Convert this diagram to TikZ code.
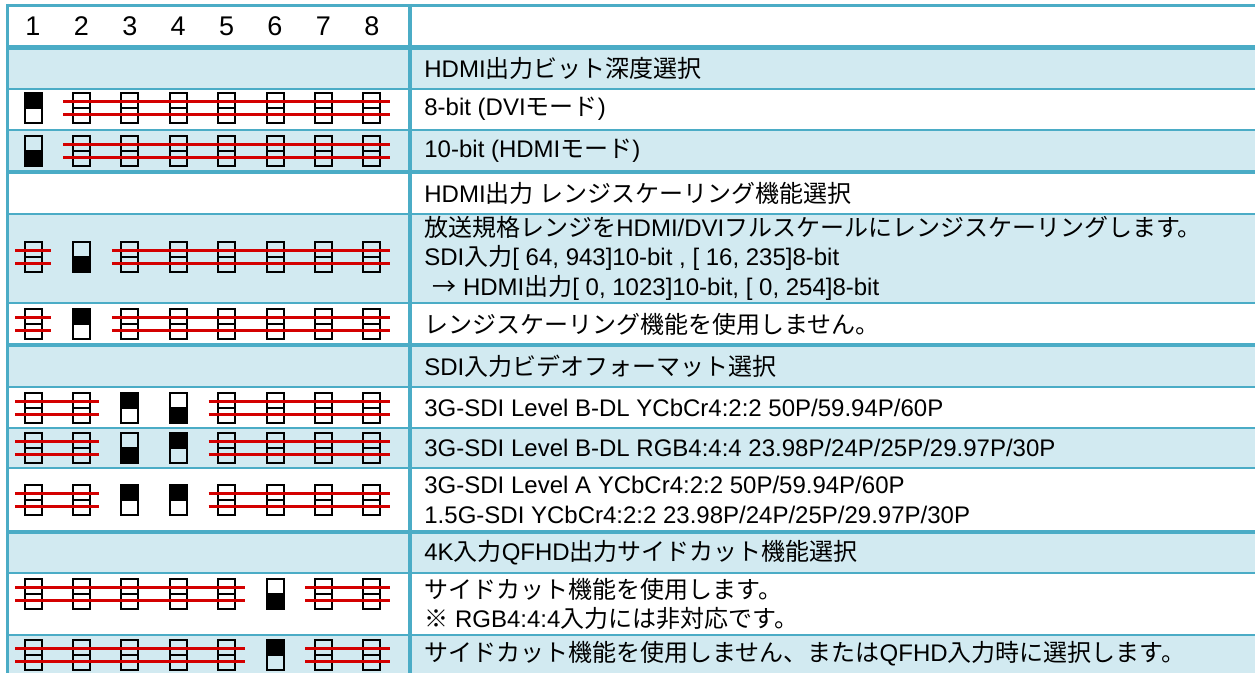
\documentclass[tikz,border=0pt]{standalone}
\usepackage{fontspec}
\setmainfont{Liberation Sans}
\newfontfamily\jpfont{Noto Sans CJK JP}
\newcommand{\jp}[1]{{\jpfont #1}}
\definecolor{gridblue}{RGB}{75,172,198}
\definecolor{rowblue}{RGB}{210,234,241}
\definecolor{crossred}{RGB}{212,0,0}

% one DIP switch: #1 column, #2 y centre, #3 state (U black top, L black bottom, D unused)
\newcommand{\dipsw}[3]{%
  \pgfmathsetmacro{\swx}{33+48.4*(#1-1)}%
  \if#3U\fill (\swx-8.5,#2-15) rectangle (\swx+8.5,#2);\fi
  \if#3L\fill (\swx-8.5,#2) rectangle (\swx+8.5,#2+15);\fi
  \draw[swbox] (\swx-8.5,#2-15) rectangle (\swx+8.5,#2+15) (\swx-8.5,#2) -- (\swx+8.5,#2);}

% red strike over unused switches: columns #1 to #2, y centre #3
\newcommand{\unused}[3]{%
  \pgfmathsetmacro{\xa}{33+48.4*(#1-1)-18}%
  \pgfmathsetmacro{\xb}{33+48.4*(#2-1)+18}%
  \draw[crossline] (\xa,#3-6.5) -- (\xb,#3-6.5) (\xa,#3+6.5) -- (\xb,#3+6.5);}

\begin{document}
\begin{tikzpicture}[x=0.5pt, y=-0.5pt,
    swbox/.style={draw=black, line width=1pt},
    crossline/.style={crossred, line width=1.1pt},
    gridthin/.style={gridblue, line width=1.25pt},
    gridthick/.style={gridblue, line width=2.25pt},
    digit/.style={inner sep=0pt, font=\fontsize{13.5}{15}\selectfont},
    cell/.style={anchor=west, align=left, inner sep=0pt, font=\fontsize{12}{14.75}\selectfont}
  ]
  \useasboundingbox (0,0) rectangle (1255,673);

  % -- 1. ROW SHADING --
  \foreach \top/\bot in {47.5/89, 130/172, 214/303, 345/387, 428/468, 532/573, 635/673}
    \fill[rowblue] (7.5,\top) rectangle (1255,\bot);

  % -- 2. GRID --
  \draw[gridblue, line width=1.5pt] (6,5.3) -- (1255,5.3);
  \foreach \y in {47.5, 172, 345, 532}
    \draw[gridthick] (7.5,\y) -- (1255,\y);
  \foreach \y in {89, 130, 214, 303, 387, 428, 468, 573, 635}
    \draw[gridthin] (7.5,\y) -- (1255,\y);
  \draw[gridblue, line width=1.5pt] (7.5,4) -- (7.5,673);
  \draw[gridblue, line width=2pt] (410,4) -- (410,673);

  % -- 3. HEADER --
  \foreach \i in {1,...,8}
    \node[digit] (d\i) at ({33+48.4*(\i-1)},26) {\i};

  % -- 4. SWITCH SETTINGS --
  % bit depth
  \foreach \s [count=\i] in {U,D,D,D,D,D,D,D} {\dipsw{\i}{108}{\s}}
  \unused{2}{8}{108}
  \foreach \s [count=\i] in {L,D,D,D,D,D,D,D} {\dipsw{\i}{151}{\s}}
  \unused{2}{8}{151}
  % range scaling
  \foreach \s [count=\i] in {D,L,D,D,D,D,D,D} {\dipsw{\i}{257}{\s}}
  \unused{1}{1}{257} \unused{3}{8}{257}
  \foreach \s [count=\i] in {D,U,D,D,D,D,D,D} {\dipsw{\i}{324}{\s}}
  \unused{1}{1}{324} \unused{3}{8}{324}
  % input format
  \foreach \s [count=\i] in {D,D,U,L,D,D,D,D} {\dipsw{\i}{408}{\s}}
  \unused{1}{2}{408} \unused{5}{8}{408}
  \foreach \s [count=\i] in {D,D,L,U,D,D,D,D} {\dipsw{\i}{448}{\s}}
  \unused{1}{2}{448} \unused{5}{8}{448}
  \foreach \s [count=\i] in {D,D,U,U,D,D,D,D} {\dipsw{\i}{500}{\s}}
  \unused{1}{2}{500} \unused{5}{8}{500}
  % side cut
  \foreach \s [count=\i] in {D,D,D,D,D,L,D,D} {\dipsw{\i}{594}{\s}}
  \unused{1}{5}{594} \unused{7}{8}{594}
  \foreach \s [count=\i] in {D,D,D,D,D,U,D,D} {\dipsw{\i}{655}{\s}}
  \unused{1}{5}{655} \unused{7}{8}{655}

  % -- 5. DESCRIPTIONS --
  \node[cell] (bitsel) at (424,68) {HDMI\jp{出力ビット深度選択}};
  \node[cell] (dvi) at (424,109) {8-bit (DVI\jp{モード})};
  \node[cell] (hdmi) at (424,151) {10-bit (HDMI\jp{モード})};
  \node[cell] (rangesel) at (424,193) {HDMI\jp{出力 レンジスケーリング機能選択}};
  \node[cell] (rangeon) at (424,258) {\jp{放送規格レンジを}HDMI/DVI\jp{フルスケールにレンジスケーリングします。}\\
    SDI\jp{入力}[ 64, 943]10-bit , [ 16, 235]8-bit\\
    \hspace*{4pt}\jp{→} HDMI\jp{出力}[ 0, 1023]10-bit, [ 0, 254]8-bit};
  \node[cell] (rangeoff) at (424,324) {\jp{レンジスケーリング機能を使用しません。}};
  \node[cell] (fmtsel) at (424,366) {SDI\jp{入力ビデオフォーマット選択}};
  \node[cell] (ycbcrdl) at (424,408) {3G-SDI Level B-DL YCbCr4:2:2 50P/59.94P/60P};
  \node[cell] (rgbdl) at (424,448) {3G-SDI Level B-DL RGB4:4:4 23.98P/24P/25P/29.97P/30P};
  \node[cell] (levela) at (424,500) {3G-SDI Level A YCbCr4:2:2 50P/59.94P/60P\\
    1.5G-SDI YCbCr4:2:2 23.98P/24P/25P/29.97P/30P};
  \node[cell] (sidesel) at (424,553) {4K\jp{入力}QFHD\jp{出力サイドカット機能選択}};
  \node[cell] (sideon) at (424,604) {\jp{サイドカット機能を使用します。}\\
    \jp{※} RGB4:4:4\jp{入力には非対応です。}};
  \node[cell] (sideoff) at (424,654) {\jp{サイドカット機能を使用しません、または}QFHD\jp{入力時に選択します。}};
\end{tikzpicture}
\end{document}
